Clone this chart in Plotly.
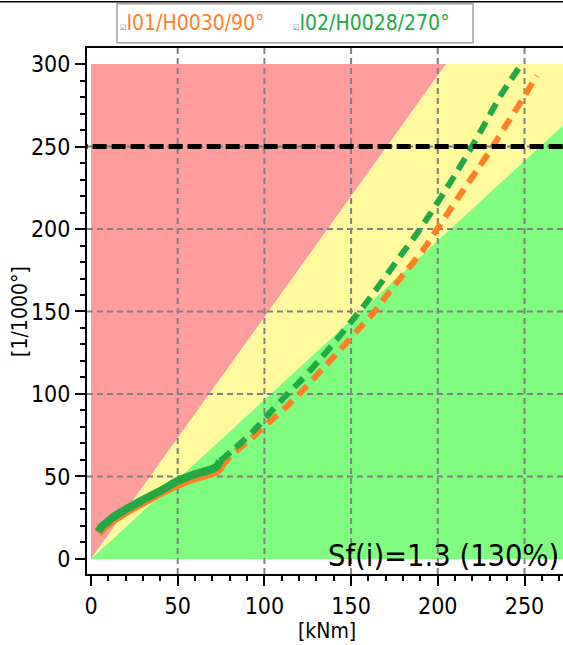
import plotly.graph_objects as go

# ---------------- data ----------------
series_names = ["I01/H0030/90°", "I02/H0028/270°"]
series_colors = ["#FF7F27", "#22A845"]

# measured (solid) part
orange_meas_x = [4.5, 7, 11, 15, 20.6, 25, 30.2, 35, 39.8, 45, 49.4, 54, 59, 64, 68.6, 72.5, 75.4]
orange_meas_y = [15.5, 18.5, 22.0, 25.0, 28.6, 31.3, 34.2, 37.0, 39.7, 42.4, 44.7, 46.7, 48.6, 50.2, 51.6, 53.2, 56.0]
green_meas_x = [4.2, 6, 11, 15, 20.6, 25, 30.2, 35, 39.8, 45, 49.4, 54, 59, 64, 68.6, 72.5, 74.4]
green_meas_y = [16.5, 19.5, 23.8, 27.0, 30.4, 33.0, 36.0, 38.6, 41.2, 44.3, 47.0, 49.1, 51.1, 52.7, 54.1, 56.1, 59.3]

# extrapolated (dashed) part
orange_ext_x = [75.4, 80.2, 91.7, 102.2, 112.9, 123.4, 134, 143.6, 153.2, 162.8, 172.5, 182.1,
                191.7, 199.4, 207.1, 214.8, 223.5, 232, 240, 250, 257]
orange_ext_y = [56.0, 62.2, 72.3, 82.4, 92.5, 103.6, 115.8, 126.8, 138.0, 149.1, 162.5, 175.0,
                187.5, 199.6, 211.7, 223.8, 237.0, 250.5, 264.0, 280.5, 293.0]
green_ext_x = [74.4, 82, 92.7, 102.2, 111.9, 121.5, 132, 141.7, 149.4, 159, 168.6, 178.2,
               187.8, 195.5, 203.2, 210.9, 218.6, 226.2, 236, 248.3]
green_ext_y = [59.3, 66.2, 76.4, 87.5, 98.5, 108.7, 120.8, 132.9, 143.0, 155.6, 169.3, 183.4,
               197.0, 209.0, 221.5, 234.5, 248.0, 262.0, 280.5, 300.0]

# zone limits (ratio y/x of the boundaries), upper value of zones, limit line
red_boundary_slope = 1.465
green_boundary_slope = 0.965
zone_top = 300
zone_right = 300
limit_value = 250

x_range = [-2.3, 272.2]
y_range = [-9.1, 309.7]
grid_x = [50, 100, 150, 200, 250]
grid_y = [50, 100, 150, 200, 250]
x_tick_vals = [0, 50, 100, 150, 200, 250]
y_tick_vals = [0, 50, 100, 150, 200, 250, 300]

sf_text = "Sf(i)=1.3 (130%)"
x_title = "[kNm]"
y_title = "[1/1000°]"

FONT = "DejaVu Sans Condensed, DejaVu Sans, sans-serif"

fig = go.Figure()

meas = [(orange_meas_x, orange_meas_y), (green_meas_x, green_meas_y)]
ext = [(orange_ext_x, orange_ext_y), (green_ext_x, green_ext_y)]
for i in range(2):
    fig.add_trace(go.Scatter(x=meas[i][0], y=meas[i][1], mode="lines", name=series_names[i],
                             line=dict(color=series_colors[i], width=8, shape="spline", smoothing=0.6),
                             showlegend=False, hoverinfo="skip"))
    fig.add_trace(go.Scatter(x=ext[i][0], y=ext[i][1], mode="lines", name=series_names[i],
                             line=dict(color=series_colors[i], width=6, dash="13px,8px",
                                       shape="spline", smoothing=0.6),
                             showlegend=False, hoverinfo="skip"))

# limit line
fig.add_trace(go.Scatter(x=[-10, 400], y=[limit_value, limit_value], mode="lines",
                         line=dict(color="black", width=5, dash="14px,5px"),
                         showlegend=False, hoverinfo="skip"))

shapes = []
xr = zone_top / red_boundary_slope
yg = green_boundary_slope * zone_right
shapes.append(dict(type="path", xref="x", yref="y", layer="below", line=dict(width=0),
                   fillcolor="#FF9D9D", path=f"M 0,0 L 0,{zone_top} L {xr},{zone_top} Z"))
shapes.append(dict(type="path", xref="x", yref="y", layer="below", line=dict(width=0),
                   fillcolor="#FFFA9E",
                   path=f"M 0,0 L {xr},{zone_top} L {zone_right},{zone_top} L {zone_right},{yg} Z"))
shapes.append(dict(type="path", xref="x", yref="y", layer="below", line=dict(width=0),
                   fillcolor="#80FC80", path=f"M 0,0 L {zone_right},{yg} L {zone_right},0 Z"))
for gx in grid_x:
    shapes.append(dict(type="line", xref="x", yref="y", x0=gx, x1=gx, y0=y_range[0], y1=y_range[1],
                       layer="below", line=dict(color="#808080", width=2, dash="6px,4px")))
for gy in grid_y:
    shapes.append(dict(type="line", xref="x", yref="y", x0=x_range[0], x1=x_range[1], y0=gy, y1=gy,
                       layer="below", line=dict(color="#808080", width=2, dash="6px,4px")))
# legend box
shapes.append(dict(type="rect", xref="paper", yref="paper", x0=0.063, x1=0.811, y0=1.010, y1=1.084,
                   line=dict(color="#A0A0A0", width=1.5), fillcolor="white"))
# top frame line of the window
shapes.append(dict(type="line", xref="paper", yref="paper", x0=-0.19, x1=1.0, y0=1.088, y1=1.088,
                   line=dict(color="black", width=1.5)))

annotations = [
    dict(text=f"<span style='font-size:8px;color:#707070'>☑</span>{series_names[0]}", xref="paper", yref="paper",
         x=0.066, y=1.047, xanchor="left", yanchor="middle", showarrow=False,
         font=dict(family=FONT, size=21, color=series_colors[0])),
    dict(text=f"<span style='font-size:8px;color:#707070'>☑</span>{series_names[1]}", xref="paper", yref="paper",
         x=0.428, y=1.047, xanchor="left", yanchor="middle", showarrow=False,
         font=dict(family=FONT, size=21, color=series_colors[1])),
    dict(text=sf_text, xref="paper", yref="paper", x=0.995, y=0.036, xanchor="right", yanchor="middle",
         showarrow=False, font=dict(family=FONT, size=30.5, color="black")),
    dict(text=x_title, xref="paper", yref="paper", x=0.504, y=-0.108, xanchor="center", yanchor="middle",
         showarrow=False, font=dict(family=FONT, size=21, color="black")),
    dict(text=y_title, xref="paper", yref="paper", x=-0.141, y=0.5, xanchor="center", yanchor="middle",
         showarrow=False, textangle=-90, font=dict(family=FONT, size=21, color="black")),
]

axis_common = dict(showgrid=False, zeroline=False, showline=True, linecolor="black", linewidth=2,
                   ticks="outside", ticklen=10, tickwidth=2, tickcolor="black",
                   tickfont=dict(family=FONT, size=23, color="black"),
                   minor=dict(dtick=10, ticks="outside", ticklen=5, tickwidth=2, tickcolor="black", showgrid=False))

fig.update_layout(
    width=563, height=645,
    margin=dict(l=87, r=0, t=48, b=71),
    paper_bgcolor="white", plot_bgcolor="white",
    showlegend=False,
    shapes=shapes, annotations=annotations,
    xaxis=dict(range=x_range, tickvals=x_tick_vals, mirror=True, **axis_common),
    yaxis=dict(range=y_range, tickvals=y_tick_vals, **axis_common),
)

fig.write_html("out.html", config={"displayModeBar": False},
               post_script="document.body.style.margin='0';document.body.style.overflow='hidden';")
